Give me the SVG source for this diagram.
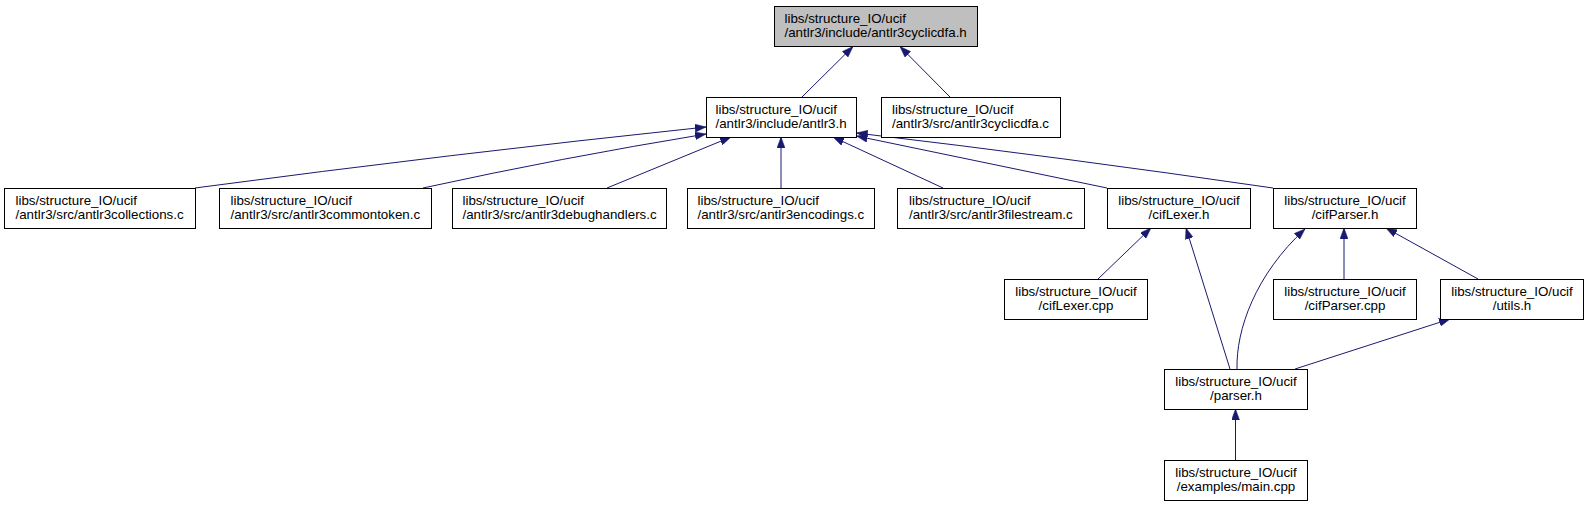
<svg xmlns="http://www.w3.org/2000/svg" width="1588" height="507" viewBox="0 0 1588 507">
<style>
  .box { fill: #ffffff; stroke: #000000; stroke-width: 1; }
  .root { fill: #bfbfbf; }
  .t { font-family: "Liberation Sans", Arial, sans-serif; font-size: 13.33px; fill: #000000; }
  .m { text-anchor: middle; }
  .e { fill: none; stroke: #191970; stroke-width: 1; marker-end: url(#ah); }
</style>
<defs>
  <marker id="ah" viewBox="0 0 11 8" refX="11" refY="4" markerWidth="11" markerHeight="8" markerUnits="userSpaceOnUse" orient="auto">
    <path d="M0,0 L11,4 L0,8 z" fill="#191970" stroke="#191970" stroke-width="0.5"/>
  </marker>
</defs>
<rect width="1588" height="507" fill="#ffffff"/>
<g id="edges">
  <path class="e" d="M802,97 L853,46.5"/>
  <path class="e" d="M950,97 L900,46.5"/>
  <path class="e" d="M195,188 Q450,154 706,127"/>
  <path class="e" d="M423,188 Q560,158 706,134"/>
  <path class="e" d="M607,188 L731,137"/>
  <path class="e" d="M781,188 L781,137"/>
  <path class="e" d="M943,188 L833,137"/>
  <path class="e" d="M1107,188 L856.5,136"/>
  <path class="e" d="M1273,188 Q1060,157 856.5,133"/>
  <path class="e" d="M1098,279 L1151,228"/>
  <path class="e" d="M1230,369 L1186,228"/>
  <path class="e" d="M1237,369 C1236,330 1255,275 1305,229"/>
  <path class="e" d="M1344,279 L1344,228"/>
  <path class="e" d="M1478,279 L1386,228"/>
  <path class="e" d="M1295,369 L1450,319"/>
  <path class="e" d="M1235.5,460 L1235.5,409"/>
</g>
<g id="node_antlr3cyclicdfa_h">
  <rect class="box root" x="774.5" y="6.5" width="203" height="40"/>
  <text class="t" x="784.5" y="23">libs/structure_IO/ucif</text>
  <text class="t" x="784.5" y="37">/antlr3/include/antlr3cyclicdfa.h</text>
</g>
<g id="node_antlr3_h">
  <rect class="box" x="706.5" y="97.5" width="150" height="40"/>
  <text class="t" x="715.5" y="114">libs/structure_IO/ucif</text>
  <text class="t" x="715.5" y="128">/antlr3/include/antlr3.h</text>
</g>
<g id="node_antlr3cyclicdfa_c">
  <rect class="box" x="881.5" y="97.5" width="179" height="40"/>
  <text class="t" x="892" y="114">libs/structure_IO/ucif</text>
  <text class="t" x="892" y="128">/antlr3/src/antlr3cyclicdfa.c</text>
</g>
<g id="node_antlr3collections_c">
  <rect class="box" x="4.5" y="188.5" width="191" height="40"/>
  <text class="t" x="15.5" y="205">libs/structure_IO/ucif</text>
  <text class="t" x="15.5" y="219">/antlr3/src/antlr3collections.c</text>
</g>
<g id="node_antlr3commontoken_c">
  <rect class="box" x="219.5" y="188.5" width="212" height="40"/>
  <text class="t" x="230.5" y="205">libs/structure_IO/ucif</text>
  <text class="t" x="230.5" y="219">/antlr3/src/antlr3commontoken.c</text>
</g>
<g id="node_antlr3debughandlers_c">
  <rect class="box" x="452.5" y="188.5" width="214" height="40"/>
  <text class="t" x="462.5" y="205">libs/structure_IO/ucif</text>
  <text class="t" x="462.5" y="219">/antlr3/src/antlr3debughandlers.c</text>
</g>
<g id="node_antlr3encodings_c">
  <rect class="box" x="687.5" y="188.5" width="187" height="40"/>
  <text class="t" x="697.5" y="205">libs/structure_IO/ucif</text>
  <text class="t" x="697.5" y="219">/antlr3/src/antlr3encodings.c</text>
</g>
<g id="node_antlr3filestream_c">
  <rect class="box" x="897.5" y="188.5" width="187" height="40"/>
  <text class="t" x="909" y="205">libs/structure_IO/ucif</text>
  <text class="t" x="909" y="219">/antlr3/src/antlr3filestream.c</text>
</g>
<g id="node_cifLexer_h">
  <rect class="box" x="1107.5" y="188.5" width="143" height="40"/>
  <text class="t m" x="1179" y="205">libs/structure_IO/ucif</text>
  <text class="t m" x="1179" y="219">/cifLexer.h</text>
</g>
<g id="node_cifParser_h">
  <rect class="box" x="1273.5" y="188.5" width="143" height="40"/>
  <text class="t m" x="1345" y="205">libs/structure_IO/ucif</text>
  <text class="t m" x="1345" y="219">/cifParser.h</text>
</g>
<g id="node_cifLexer_cpp">
  <rect class="box" x="1004.5" y="279.5" width="143" height="40"/>
  <text class="t m" x="1076" y="296">libs/structure_IO/ucif</text>
  <text class="t m" x="1076" y="310">/cifLexer.cpp</text>
</g>
<g id="node_cifParser_cpp">
  <rect class="box" x="1273.5" y="279.5" width="143" height="40"/>
  <text class="t m" x="1345" y="296">libs/structure_IO/ucif</text>
  <text class="t m" x="1345" y="310">/cifParser.cpp</text>
</g>
<g id="node_utils_h">
  <rect class="box" x="1440.5" y="279.5" width="143" height="40"/>
  <text class="t m" x="1512" y="296">libs/structure_IO/ucif</text>
  <text class="t m" x="1512" y="310">/utils.h</text>
</g>
<g id="node_parser_h">
  <rect class="box" x="1164.5" y="369.5" width="143" height="40"/>
  <text class="t m" x="1236" y="386">libs/structure_IO/ucif</text>
  <text class="t m" x="1236" y="400">/parser.h</text>
</g>
<g id="node_main_cpp">
  <rect class="box" x="1164.5" y="460.5" width="143" height="40"/>
  <text class="t m" x="1236" y="477">libs/structure_IO/ucif</text>
  <text class="t m" x="1236" y="491">/examples/main.cpp</text>
</g>
</svg>
